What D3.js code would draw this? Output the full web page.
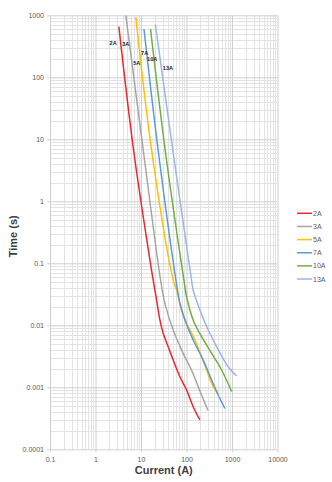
<!DOCTYPE html>
<html><head><meta charset="utf-8">
<script src="https://cdn.jsdelivr.net/npm/d3@7"></script>
<style>body{margin:0;background:#fff}svg{display:block}</style>
</head><body>
<svg id="c" width="332" height="482"></svg>
<script>
const seriesNames = ["2A","3A","5A","7A","10A","13A"];
const seriesColors = ["#e8282d","#a5a5a5","#ffc000","#5b9bd5","#70ad47","#9db6e0"];
// [current (A), time (s)]
const s2A = [[3.26,655],[6.86,6.72],[15.7,0.113],[18.5,0.0538],[22,0.0256],[26,0.0122],[30.7,0.00743],[39.6,0.00452],[51,0.00275],[71.6,0.00148],[100.5,0.000904],[140,0.000486],[197,0.000297]];
const s3A = [[4.64,1000],[11.2,6.72],[26.9,0.0538],[33.5,0.0226],[51,0.0084],[84.6,0.00353],[129,0.0019],[181,0.00102],[296,0.000423]];
const s5A = [[7.7,929],[17.1,6.72],[51,0.0538],[60.6,0.0371],[78,0.0177],[100.5,0.0108],[153,0.0058],[215,0.00312],[277,0.0019],[357,0.00116],[498,0.000766]];
const s7A = [[11.6,601],[23.8,6.72],[58.5,0.0538],[71.6,0.0226],[92.2,0.0122],[140,0.0058],[233,0.00275],[357,0.00131],[498,0.000752],[700,0.000455]];
const s10A = [[16.2,601],[34,6.72],[87.7,0.0538],[100.5,0.0289],[140,0.0122],[215,0.00655],[357,0.00353],[592,0.0019],[982,0.000855]];
const s13A = [[20.7,710],[50,6.72],[129,0.0538],[140,0.0371],[197,0.0177],[300,0.0084],[387,0.0058],[503,0.004],[665,0.00275],[836,0.0021],[1266,0.00152]];
const allSeries = [s2A,s3A,s5A,s7A,s10A,s13A];
const xTickLabels = ["0.1","1","10","100","1000","10000"];
const yTickLabels = ["0.0001","0.001","0.01","0.1","1","10","100","1000"];
const curveLabels = [[2.44,361],[4.64,344],[8.1,170],[12,247],[17.6,195],[39,140]];

const svg = d3.select("#c");
const L=50, R=277.5, T=15.3, B=449.3;
const x = d3.scaleLog().domain([0.1,10000]).range([L,R]);
const y = d3.scaleLog().domain([0.0001,1000]).range([B,T]);
const FONT = "Liberation Sans, Arial, sans-serif";

const g = svg.append("g");
// minor grid
const xMinor=[], yMinor=[];
for(let e=-1;e<4;e++) for(let m=2;m<10;m++) xMinor.push(m*Math.pow(10,e));
for(let e=-4;e<3;e++) for(let m=2;m<10;m++) yMinor.push(m*Math.pow(10,e));
g.selectAll(".xm").data(xMinor).enter().append("line")
 .attr("x1",d=>Math.round(x(d))+0.5).attr("x2",d=>Math.round(x(d))+0.5).attr("y1",T).attr("y2",B)
 .attr("stroke","#e3e3e3").attr("stroke-width",1);
g.selectAll(".ym").data(yMinor).enter().append("line")
 .attr("y1",d=>Math.round(y(d))+0.5).attr("y2",d=>Math.round(y(d))+0.5).attr("x1",L).attr("x2",R)
 .attr("stroke","#e3e3e3").attr("stroke-width",1);
// major grid via axes
const xMajor = xTickLabels.map(Number), yMajor = yTickLabels.map(Number);
const xAxis = d3.axisBottom(x).tickValues(xMajor).tickFormat((d,i)=>xTickLabels[i]).tickSize(-(B-T)).tickPadding(8);
const yAxis = d3.axisLeft(y).tickValues(yMajor).tickFormat((d,i)=>yTickLabels[i]).tickSize(-(R-L)).tickPadding(6);
const gx = svg.append("g").attr("transform",`translate(0,${B})`).call(xAxis);
const gy = svg.append("g").attr("transform",`translate(${L},0)`).call(yAxis);
[gx,gy].forEach(a=>{
  a.select(".domain").remove();
  a.selectAll(".tick line").attr("stroke","#cfcfcf");
  a.selectAll(".tick text").attr("fill","#595959").style("font-family",FONT).style("font-size","7px");
});
gy.selectAll(".tick").append("line").attr("x1",-3).attr("x2",0).attr("stroke","#cfcfcf");
gx.selectAll(".tick").append("line").attr("y1",0).attr("y2",3).attr("stroke","#cfcfcf");

// curves
const line = d3.line().x(d=>x(d[0])).y(d=>y(d[1])).curve(d3.curveCatmullRom.alpha(0.5));
svg.append("g").selectAll("path").data(allSeries).enter().append("path")
 .attr("d",d=>line(d)).attr("fill","none")
 .attr("stroke",(d,i)=>seriesColors[i]).attr("stroke-width",1.5).attr("stroke-linejoin","round");

// curve labels
svg.append("g").selectAll("text").data(curveLabels).enter().append("text")
 .attr("x",d=>x(d[0])).attr("y",d=>y(d[1])).attr("text-anchor","middle").attr("dy","0.35em")
 .text((d,i)=>seriesNames[i]).attr("fill","#222").style("font-family",FONT)
 .style("font-size","5.5px").style("font-weight","bold");

// legend
const lg = svg.append("g").attr("transform","translate(297,213.3)");
seriesNames.forEach((n,i)=>{
  const r = lg.append("g").attr("transform",`translate(0,${i*13.15})`);
  r.append("line").attr("x1",0).attr("x2",15).attr("stroke",seriesColors[i]).attr("stroke-width",1.5);
  r.append("text").attr("x",16).attr("dy","0.35em").text(n).attr("fill","#595959")
   .style("font-family",FONT).style("font-size","7px");
});

// axis titles
svg.append("text").attr("x",(L+R)/2).attr("y",474).attr("text-anchor","middle").text("Current (A)")
 .attr("fill","#404040").style("font-family",FONT).style("font-size","11px").style("font-weight","bold");
svg.append("text").attr("transform",`translate(17,${(T+B)/2+4}) rotate(-90)`).attr("text-anchor","middle").text("Time (s)")
 .attr("fill","#404040").style("font-family",FONT).style("font-size","11px").style("font-weight","bold");
</script>
</body></html>
